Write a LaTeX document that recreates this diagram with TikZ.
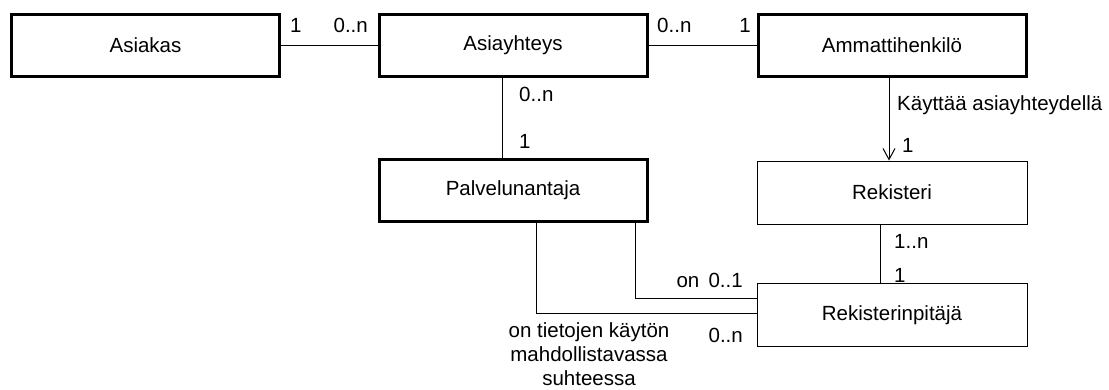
\documentclass[tikz,border=0pt]{standalone}
\usepackage{fontspec}
\setmainfont{Liberation Sans}
\usetikzlibrary{arrows.meta}
\begin{document}
\begin{tikzpicture}[x=1pt,y=-1pt,
  txt/.style={font=\fontsize{20.5}{24}\selectfont},
  entity/.style={draw, txt, line width=3pt, minimum width=268pt, minimum height=62pt, inner sep=0pt},
  plainbox/.style={draw, txt, line width=1pt, minimum width=270pt, minimum height=63pt, inner sep=0pt},
  link/.style={line width=1pt},
  lbl/.style={txt, inner sep=0pt}]
\useasboundingbox (0,0) rectangle (1109,389);

% entities
\node[entity]   (asiakas)    at (145.5,45.5) {Asiakas};
\node[entity]   (asiayhteys) at (513,45.5)   {Asiayhteys};
\node[entity]   (ammatti)    at (892,45.5)   {Ammattihenkilö};
\node[entity]   (palvelu)    at (513,190.5)  {Palvelunantaja};
\node[plainbox] (rekisteri)  at (892,192.5)  {Rekisteri};
\node[plainbox] (pitaja)     at (892,315)    {Rekisterinpitäjä};

% attachment points
\path (asiayhteys.south) ++(-11,0) coordinate (a1)
      (ammatti.south)    ++(-3,0)  coordinate (a2)
      (rekisteri.south)  ++(-12,0) coordinate (a3)
      (palvelu.south)    ++(122,0) coordinate (p1)
      (palvelu.south)    ++(23,0)  coordinate (p2)
      (pitaja.west)      ++(0,-17) coordinate (q1)
      (pitaja.west)      ++(0,-2)  coordinate (q2);

% associations
\draw[link] (asiakas.east) -- (asiayhteys.west);
\draw[link] (asiayhteys.east) -- (ammatti.west);
\draw[link] (a1) -- (a1 |- palvelu.north);
\draw[link, -{Straight Barb[length=11pt,width=12pt]}] (a2) -- (a2 |- rekisteri.north);
\draw[link] (a3) -- (a3 |- pitaja.north);
\draw[link] (p1) -- (p1 |- q1) -- (q1);
\draw[link] (p2) -- (p2 |- q2) -- (q2);

% multiplicities and role names
\node[lbl, anchor=base west] (m1)  at (290,32)  {1};
\node[lbl, anchor=base east] (m2)  at (368,32)  {0..n};
\node[lbl, anchor=base west] (m3)  at (657,32)  {0..n};
\node[lbl, anchor=base east] (m4)  at (751,32)  {1};
\node[lbl, anchor=base west] (m5)  at (519,101) {0..n};
\node[lbl, anchor=base west] (m6)  at (519,148) {1};
\node[lbl, anchor=base west] (r1)  at (897,110) {Käyttää asiayhteydellä};
\node[lbl, anchor=base west] (m7)  at (902,152) {1};
\node[lbl, anchor=base west] (m8)  at (894,248) {1..n};
\node[lbl, anchor=base west] (m9)  at (894,282) {1};
\node[lbl, anchor=base east] (r2)  at (743,287) {on\hspace{0.45em}0..1};
\node[lbl, anchor=base east] (m10) at (743,342) {0..n};
\node[lbl, anchor=north, align=center] (r3) at (589,322)
  {on tietojen käytön\\mahdollistavassa\\suhteessa};
\end{tikzpicture}
\end{document}
